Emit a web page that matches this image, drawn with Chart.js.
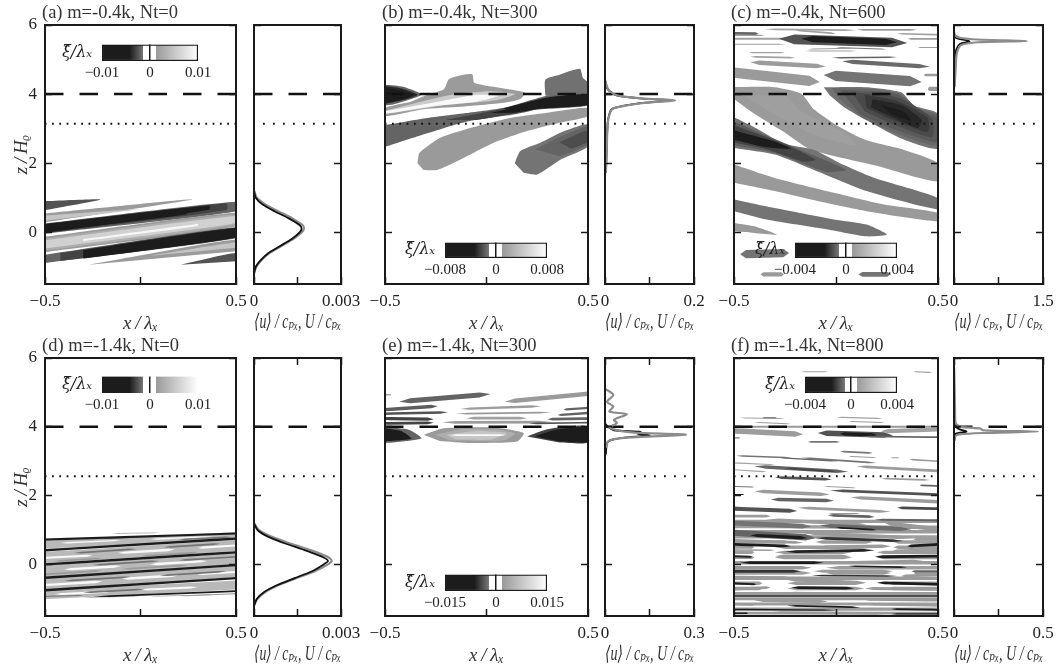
<!DOCTYPE html>
<html>
<head>
<meta charset="utf-8">
<script src="https://cdn.jsdelivr.net/npm/chart.js@4"></script>
<style>
  html, body { margin: 0; background: #fff; overflow: hidden; }
  #fig { position: relative; width: 1057px; height: 669px; }
  canvas { position: absolute; filter: blur(0.45px); }
</style>
</head>
<body>
<div id="fig"></div>
<script>
// panel text and axis values
const panelTitles = ["(a) m=-0.4k, Nt=0", "(b) m=-0.4k, Nt=300", "(c) m=-0.4k, Nt=600",
                     "(d) m=-1.4k, Nt=0", "(e) m=-1.4k, Nt=300", "(f) m=-1.4k, Nt=800"];
const xTicks = [-0.5, 0, 0.5];
const zTicks = [0, 2, 4, 6];
const uMax = [0.003, 0.2, 1.5, 0.003, 0.3, 0.5];
const xiMax = [0.01, 0.008, 0.004, 0.01, 0.015, 0.004];
const dashedZ = [4, 4, 4, 4, 4, 4];
const dottedZ = [3.14, 3.14, 3.14, 2.56, 2.56, 2.56];

// colour bar: position along the bar (-1..1) and grey value
const cmapLevels = [-1, -0.42, -0.14, -0.14, 0.12, 0.12, 1];
const cmapGreys = [28, 28, 119, 255, 255, 153, 255];

// contours: [level, x, z, x, z, ...], level is xi / xiMax
const regionsA = [
  [-0.25, -0.5,0.9, -0.21,0.95, -0.5,0.64],
  [0.14, -0.5,0.54, 0.27,0.95, -0.5,0.29],
  [0.5, -0.5,0.48, 0,0.67, -0.5,0.33],
  [-0.2, -0.5,0.25, 0.5,0.88, 0.5,0.6, -0.5,-0.04],
  [-0.3, -0.5,0.24, 0.45,0.84, 0.45,0.64, -0.5,-0.03],
  [-0.42, -0.5,0.23, 0.36,0.77, 0.36,0.65, -0.5,-0.02],
  [-0.8, -0.5,0.21, 0.24,0.69, 0.24,0.52, -0.5,0.01],
  [0.14, -0.5,-0.135, 0.5,0.56, 0.5,0.17, -0.5,-0.58],
  [0.3, -0.5,-0.18, 0.5,0.52, 0.5,0.21, -0.5,-0.53],
  [0.6, -0.5,-0.23, 0.5,0.47, 0.5,0.26, -0.5,-0.47],
  [0.92, -0.3,-0.2, 0.3,0.24, 0.3,0.18, -0.3,-0.26],
  [-0.2, -0.5,-0.65, 0.5,0.145, 0.5,-0.175, -0.5,-0.89],
  [-0.3, -0.42,-0.6, 0.5,0.13, 0.5,-0.16, -0.42,-0.83],
  [-0.8, -0.3,-0.52, 0.5,0.12, 0.5,-0.15, -0.3,-0.76],
  [0.14, -0.27,-0.94, 0.5,-0.21, 0.5,-0.55],
  [0.5, 0.05,-0.68, 0.5,-0.3, 0.5,-0.45],
  [-0.25, 0.21,-0.94, 0.5,-0.6, 0.5,-0.84]
];
const regionsB = [
  [-0.2, -0.5,4.27, -0.41,4.21, -0.32,3.99, -0.375,3.85, -0.46,3.7, -0.5,3.67],
  [-0.38, -0.5,4.23, -0.41,4.15, -0.34,3.98, -0.4,3.84, -0.5,3.71],
  [-0.85, -0.5,4.2, -0.42,4.1, -0.36,3.98, -0.42,3.83, -0.5,3.75],
  [0.14, -0.31,3.94, -0.21,4.14, -0.186,4.43, -0.13,4.54, -0.07,4.57, -0.06,4.33, 0.035,4.21, 0.19,4.04, 0.167,3.86, 0.085,3.75, -0.13,3.63, -0.31,3.56, -0.5,3.36, -0.5,3.6, -0.375,3.77],
  [0.55, -0.28,3.84, -0.15,4.0, 0.02,4.08, 0.14,4.0, 0.05,3.82, -0.2,3.68, -0.5,3.42, -0.5,3.52],
  [0.95, -0.22,3.8, -0.05,3.98, 0.06,3.95, -0.05,3.78, -0.25,3.66, -0.5,3.43, -0.5,3.5],
  [-0.16, 0.29,3.95, 0.29,4.42, 0.364,4.57, 0.46,4.73, 0.475,4.47, 0.5,4.33, 0.5,3.9],
  [-0.2, -0.5,3.1, -0.3,3.3, -0.1,3.45, 0.1,3.62, 0.3,3.95, 0.5,4.0, 0.5,3.67, 0.25,3.55, 0.15,3.42, -0.1,3.2, -0.3,2.85, -0.5,2.47],
  [-0.3, -0.2,3.25, 0,3.48, 0.2,3.72, 0.4,3.97, 0.5,3.97, 0.5,3.68, 0.26,3.57, 0.14,3.44, -0.05,3.25],
  [-0.45, 0.02,3.45, 0.2,3.68, 0.35,3.93, 0.5,3.97, 0.5,3.7, 0.27,3.58, 0.14,3.46],
  [-0.85, 0.08,3.58, 0.3,3.9, 0.5,3.97, 0.5,3.7, 0.27,3.6, 0.14,3.5],
  [0.13, -0.34,2.0, -0.33,2.3, -0.23,2.73, -0.08,3.02, 0.117,3.31, 0.3,3.46, 0.5,3.6, 0.5,3.36, 0.36,3.17, 0.2,2.93, 0.035,2.59, -0.13,2.1, -0.244,1.8, -0.31,1.8],
  [-0.15, 0.139,2.0, 0.167,2.35, 0.265,2.59, 0.364,2.88, 0.5,3.12, 0.5,2.49, 0.364,2.1, 0.249,1.67, 0.183,1.72],
  [-0.2, 0.24,2.4, 0.36,2.75, 0.5,3.05, 0.5,2.55, 0.36,2.2],
  [-0.27, 0.36,2.6, 0.5,2.95, 0.5,2.62, 0.42,2.42]
];
const regionsC = [
  [0.13, -0.5,4.2, -0.3,4.2, -0.17,4.01, -0.11,3.57, 0.02,3.04, 0.15,2.66, 0.33,2.39, 0.5,2.0, 0.5,1.47, 0.19,1.94, -0.124,2.39, -0.255,2.9, -0.4,3.43, -0.5,3.86],
  [0.17, -0.45,3.95, -0.25,3.95, -0.17,3.5, 0.05,2.85, 0.1,2.5, -0.1,2.8, -0.3,3.4],
  [-0.15, -0.06,4.2, 0.15,4.2, 0.32,4.05, 0.38,3.67, 0.5,3.43, 0.5,2.42, 0.32,2.71, 0.15,3.24, 0.04,3.62, -0.03,3.96],
  [-0.19, -0.02,4.17, 0.17,4.15, 0.31,4.02, 0.4,3.6, 0.5,3.38, 0.5,2.52, 0.31,2.83, 0.13,3.32, 0.01,3.9],
  [-0.23, 0.02,4.12, 0.3,4.0, 0.42,3.5, 0.5,3.3, 0.5,2.6, 0.3,2.95, 0.12,3.4],
  [-0.28, 0.08,4.05, 0.3,3.9, 0.47,3.3, 0.47,2.75, 0.3,3.08, 0.14,3.5],
  [-0.33, 0.14,3.98, 0.3,3.8, 0.45,3.3, 0.45,2.9, 0.28,3.25, 0.15,3.6],
  [-0.39, 0.18,3.85, 0.32,3.68, 0.42,3.25, 0.4,3.02, 0.27,3.35, 0.17,3.62],
  [-0.7, 0.22,3.68, 0.33,3.5, 0.37,3.22, 0.27,3.42],
  [-0.15, -0.5,3.33, -0.4,3.04, -0.255,2.56, -0.11,2.39, 0.02,2.0, 0.19,1.57, 0.5,0.99, 0.5,0.66, 0.15,1.19, -0.09,1.76, -0.3,2.25, -0.5,2.44],
  [-0.22, -0.5,3.2, -0.3,2.7, -0.1,2.2, 0.05,1.8, -0.05,1.75, -0.3,2.3, -0.5,2.52],
  [-0.3, -0.5,3.1, -0.25,2.55, -0.1,2.1, -0.16,2.05, -0.35,2.42, -0.5,2.6],
  [-0.42, -0.5,2.95, -0.3,2.62, -0.22,2.42, -0.35,2.47, -0.5,2.68],
  [0.13, -0.5,1.96, -0.3,1.57, -0.01,1.14, 0.235,0.8, 0.5,0.56, 0.5,0.32, 0.15,0.61, -0.09,0.9, -0.3,1.19, -0.5,1.43],
  [-0.15, -0.5,0.95, -0.3,0.7, -0.01,0.37, 0.15,0.22, 0.25,-0.07, 0.15,-0.12, -0.04,0.08, -0.34,0.37, -0.5,0.61],
  [0.13, -0.5,0.27, -0.4,0.17, -0.29,-0.07, -0.4,-0.02, -0.5,0.03]
];
const regionsE = [
  [-0.2, -0.5,4.0, -0.38,3.91, -0.32,3.67, -0.42,3.57, -0.5,3.52],
  [-0.85, -0.5,3.96, -0.42,3.88, -0.37,3.66, -0.44,3.6, -0.5,3.58],
  [-0.3, 0.2,3.72, 0.3,3.93, 0.5,4.02, 0.5,3.54, 0.36,3.54],
  [-0.85, 0.24,3.72, 0.33,3.9, 0.5,3.98, 0.5,3.56, 0.36,3.57],
  [0.13, -0.31,3.77, -0.21,3.96, 0.035,3.98, 0.183,3.82, 0.15,3.57, -0.08,3.53, -0.23,3.59],
  [0.3, -0.25,3.77, -0.12,3.93, 0.05,3.92, 0.14,3.8, 0.08,3.6, -0.18,3.6],
  [0.5, -0.2,3.77, -0.05,3.88, 0.1,3.82, 0.02,3.63, -0.15,3.63]
];
// thin contours: [x start, x end, z start, z end, thickness, level]
const stripesC = [
  [-0.35,0.1,5.88,5.85,0.05,0.2], [0.1,0.4,5.86,5.86,0.04,-0.15], [-0.5,-0.38,5.76,5.75,0.08,-0.2],
  [-0.2,0,5.85,5.75,0.05,0.2], [-0.5,-0.35,5.7,5.7,0.04,0.15], [0.3,0.5,5.75,5.72,0.05,0.2],
  [0.35,0.5,5.6,5.6,0.05,0.15], [-0.5,-0.2,5.6,5.6,0.06,0.2], [-0.28,0.35,5.6,5.48,0.28,-0.25],
  [-0.17,0.3,5.6,5.5,0.18,-0.8], [-0.5,-0.25,5.44,5.44,0.03,0.15], [0,0.25,5.35,5.3,0.03,-0.15],
  [-0.14,0.1,5.3,5.33,0.03,0.15], [0.4,0.5,5.35,5.35,0.03,0.15], [-0.15,0.1,5.25,5.25,0.03,0.2],
  [-0.43,-0.25,5.2,5.2,0.04,0.2], [-0.42,-0.2,5.08,5.05,0.05,0.2], [-0.42,-0.05,4.92,4.8,0.13,0.15],
  [-0.02,0.3,5.05,5.07,0.04,-0.2], [0.03,0.46,4.95,4.79,0.12,-0.18], [-0.5,-0.08,4.62,4.35,0.3,0.13],
  [-0.06,0.42,4.55,4.35,0.3,-0.15], [0.43,0.5,4.55,4.55,0.07,0.13], [0.45,0.5,4.15,4.15,0.12,0.13],
  [-0.47,-0.23,-0.64,-0.6,0.24,-0.15], [-0.37,-0.255,-1.22,-1.22,0.12,0.13], [0.11,0.27,-1.22,-1.22,0.14,-0.15]
];
const stripesD = [
  [-0.5,0.5,0.57,0.83,0.22,0.4], [-0.42,-0.1,0.62,0.7,0.04,0.95], [0.05,0.38,0.73,0.81,0.04,0.95],
  [-0.2,0.15,0.75,0.83,0.04,-0.15], [0.2,0.48,0.72,0.8,0.04,-0.15], [-0.48,-0.2,0.88,0.92,0.03,-0.12],
  [-0.15,0.1,0.9,0.92,0.02,0.2], [0.12,0.42,0.9,0.93,0.03,-0.12],
  [-0.5,0.5,0.2,0.55,0.33,0.4], [-0.5,-0.25,0.19,0.26,0.06,0.95], [-0.12,0.18,0.33,0.43,0.07,0.95],
  [0.3,0.5,0.48,0.55,0.06,0.95], [-0.35,-0.02,0.33,0.45,0.05,-0.15], [0.12,0.42,0.5,0.6,0.05,-0.15],
  [-0.45,-0.2,0.09,0.18,0.05,0.14], [0.0,0.3,0.24,0.35,0.05,0.14],
  [-0.5,0.5,-0.2,0.16,0.33,0.4], [-0.4,-0.1,-0.15,-0.05,0.07,0.95], [0.05,0.35,0,0.1,0.07,0.95],
  [-0.25,0.1,-0.02,0.1,0.05,-0.15], [0.2,0.5,0.12,0.22,0.05,-0.15],
  [-0.5,-0.2,-0.29,-0.18,0.05,0.14], [-0.1,0.25,-0.14,-0.02,0.05,0.14],
  [-0.5,0.5,-0.57,-0.21,0.33,0.4], [-0.5,-0.2,-0.6,-0.5,0.07,0.95], [-0.1,0.2,-0.42,-0.32,0.07,0.95],
  [0.3,0.5,-0.29,-0.22,0.06,0.95], [-0.4,-0.05,-0.48,-0.36,0.05,-0.15], [0.1,0.45,-0.33,-0.2,0.05,-0.15],
  [-0.5,0.5,-0.88,-0.6,0.26,0.4], [-0.45,-0.15,-0.87,-0.79,0.06,0.95], [0,0.3,-0.74,-0.66,0.06,0.95],
  [-0.3,0.02,-0.82,-0.72,0.05,-0.15],
  [-0.3,0,-0.96,-0.93,0.02,0.2], [0.05,0.4,-0.93,-0.88,0.02,0.2], [-0.5,-0.3,-0.93,-0.9,0.03,-0.15],
  [0.2,0.5,-0.92,-0.85,0.03,0.13],
  [-0.5,0.5,0.72,0.9,0.06,-0.9], [-0.5,0.5,0.41,0.75,0.07,-0.9], [-0.5,0.5,0,0.35,0.07,-0.9],
  [-0.5,0.5,-0.39,-0.02,0.07,-0.9], [-0.5,0.5,-0.75,-0.4,0.07,-0.9], [-0.25,0.5,-0.94,-0.78,0.05,-0.8]
];
const stripesE = [
  [-0.43,0.02,4.73,4.95,0.15,-0.2], [0.09,0.5,4.73,4.96,0.13,0.13], [-0.5,-0.24,4.5,4.6,0.1,-0.22],
  [-0.5,-0.47,4.93,4.93,0.04,0.2], [-0.13,0.27,4.52,4.6,0.07,0.15], [-0.5,-0.19,4.38,4.42,0.07,-0.25],
  [-0.15,0.32,4.38,4.42,0.05,0.13], [0.38,0.5,4.5,4.55,0.07,-0.2], [0.35,0.5,4.34,4.4,0.07,-0.2],
  [-0.5,-0.26,4.24,4.22,0.09,-0.3], [-0.1,0.2,4.25,4.25,0.08,0.2], [0.3,0.5,4.22,4.24,0.08,-0.2],
  [-0.5,-0.26,4.1,4.12,0.08,-0.3], [-0.22,0.32,4.13,4.14,0.08,0.15], [0.21,0.5,4.1,4.12,0.05,-0.25],
  [-0.18,0.1,3.76,3.76,0.05,0.95]
];
// grey background rows of panel f, below z = 1.4
const stripesFBase = [
  [-0.5,0.5,1.25,1.25,0.1,0.14], [-0.5,0.5,1.1,1.08,0.1,0.16], [-0.5,0.5,0.95,0.95,0.1,0.14], [-0.5,0.5,0.8,0.8,0.1,0.17],
  [-0.5,-0.22,0.65,0.65,0.1,0.15], [-0.1,0.18,0.65,0.65,0.1,0.14], [0.28,0.5,0.65,0.65,0.1,0.16],
  [-0.5,-0.4,0.5,0.5,0.09,0.15], [-0.3,0.18,0.5,0.5,0.1,0.14], [0.28,0.5,0.5,0.5,0.1,0.15],
  [-0.5,-0.4,0.35,0.35,0.09,0.16], [-0.3,0.08,0.35,0.35,0.1,0.15], [0.2,0.5,0.35,0.35,0.1,0.14],
  [-0.5,-0.4,0.2,0.2,0.09,0.14], [-0.3,0.08,0.2,0.2,0.1,0.16], [0.2,0.5,0.2,0.2,0.1,0.15],
  [-0.5,0.5,0.05,0.05,0.1,0.15], [-0.5,-0.12,-0.1,-0.1,0.1,0.14], [-0.05,0.5,-0.1,-0.1,0.1,0.16],
  [-0.5,-0.12,-0.25,-0.25,0.1,0.16], [-0.05,0.27,-0.25,-0.25,0.1,0.14], [0.38,0.5,-0.25,-0.25,0.1,0.15],
  [-0.5,0.5,-0.4,-0.4,0.1,0.14], [-0.5,-0.36,-0.55,-0.55,0.1,0.16], [-0.24,0.14,-0.55,-0.55,0.1,0.15],
  [0.25,0.5,-0.55,-0.55,0.1,0.14], [-0.5,-0.36,-0.7,-0.7,0.1,0.14], [-0.24,0.14,-0.7,-0.7,0.1,0.16],
  [0.25,0.5,-0.7,-0.7,0.1,0.15], [-0.5,0.5,-0.85,-0.85,0.1,0.15], [-0.5,0.5,-1.0,-1.0,0.09,0.14],
  [-0.5,0.5,-1.15,-1.15,0.09,0.16], [-0.5,0.5,-1.3,-1.3,0.09,0.14], [-0.5,0.5,-1.42,-1.42,0.08,0.15]
];
const stripesF = [
  [-0.17,-0.04,5.6,5.6,0.03,0.2], [0.38,0.47,5.6,5.58,0.03,0.15],
  [-0.47,-0.25,4.26,4.24,0.03,0.2], [-0.36,-0.29,4.26,4.26,0.03,-0.2], [-0.4,-0.22,4.13,4.08,0.03,0.15],
  [0,0.23,4.28,4.24,0.04,0.2], [0.06,0.24,4.16,4.12,0.03,0.15], [-0.5,0.5,4,4,0.06,0.13],
  [-0.5,-0.16,3.88,3.78,0.16,0.15], [-0.09,0.28,3.82,3.75,0.16,-0.25], [0.02,0.2,3.8,3.76,0.1,-0.45],
  [0.12,0.5,3.72,3.7,0.05,-0.2], [0.22,0.5,3.87,3.92,0.12,0.2], [-0.5,-0.47,3.68,3.68,0.05,0.2],
  [-0.14,0.02,3.56,3.56,0.05,-0.15], [0.02,0.18,3.28,3.24,0.05,-0.15], [0.06,0.2,3.14,3.1,0.03,0.15],
  [0.27,0.31,3.1,3.1,0.03,0.15], [-0.49,-0.22,3.16,3.1,0.04,-0.15], [-0.28,0.01,3.1,3,0.04,-0.2],
  [-0.17,0.2,3.1,2.95,0.05,-0.15], [0.36,0.5,3.05,3,0.05,0.15], [-0.5,-0.3,2.95,2.9,0.03,0.2],
  [-0.4,0.06,2.85,2.69,0.1,-0.2], [-0.25,0,2.8,2.7,0.05,-0.3], [-0.5,-0.34,2.75,2.69,0.03,0.2],
  [0.1,0.5,2.85,2.72,0.08,0.15], [-0.3,-0.02,2.53,2.47,0.08,-0.25], [0.22,0.46,2.5,2.45,0.05,0.15],
  [-0.5,-0.4,2.27,2.25,0.03,-0.15], [-0.06,0.1,2.27,2.22,0.03,0.15], [0.41,0.5,2.3,2.28,0.05,-0.2],
  [-0.4,-0.03,2.13,2.03,0.1,0.15], [-0.03,0.5,2.15,2.03,0.08,-0.25], [-0.5,-0.45,2.03,2.03,0.03,-0.5],
  [-0.32,-0.01,1.89,1.85,0.1,-0.2], [0.07,0.5,1.95,1.82,0.1,0.15], [-0.5,-0.19,1.62,1.55,0.12,-0.25],
  [-0.19,0.27,1.65,1.53,0.08,0.15], [0.3,0.5,1.65,1.62,0.08,-0.28], [-0.04,0.12,1.48,1.48,0.03,0.15],
  [-0.5,-0.32,1.4,1.4,0.08,0.15], [-0.04,0.19,1.43,1.38,0.08,-0.2], [-0.5,-0.12,1.2,1.1,0.14,-0.15],
  [-0.34,0.15,1.3,1.16,0.1,0.15], [0.19,0.5,1.3,1.28,0.06,-0.2], [-0.08,0.37,1.13,1.02,0.12,-0.18],
  [0,0.2,1.07,1,0.05,-0.5], [0.24,0.5,1.2,1.02,0.12,0.13], [-0.5,-0.1,0.92,0.77,0.18,-0.2],
  [-0.42,-0.14,0.85,0.77,0.09,-0.55], [-0.17,0.38,0.92,0.77,0.1,0.14], [-0.1,0.33,0.77,0.68,0.08,-0.35],
  [-0.5,-0.16,0.7,0.63,0.08,0.13], [-0.5,-0.22,0.58,0.53,0.08,-0.8], [0.38,0.5,0.73,0.73,0.08,0.15],
  [0.35,0.5,0.53,0.58,0.08,-0.7], [-0.09,0.27,0.5,0.53,0.1,0.15], [-0.5,-0.3,0.42,0.41,0.05,0.15],
  [-0.5,-0.41,0.24,0.22,0.06,-0.4], [-0.25,0.19,0.37,0.41,0.08,-0.4], [-0.3,0.07,0.24,0.24,0.1,0.15],
  [0.19,0.5,0.22,0.24,0.08,-0.5], [0.27,0.5,0.38,0.43,0.09,0.15], [-0.47,-0.06,0.05,0.05,0.08,-0.5],
  [0.04,0.43,0.05,0.1,0.08,0.13], [0.06,0.35,-0.05,-0.08,0.05,-0.4], [-0.47,-0.12,-0.08,-0.1,0.05,0.13],
  [-0.5,-0.17,-0.2,-0.2,0.09,-0.35], [-0.11,0.28,-0.2,-0.2,0.09,0.15], [0.37,0.5,-0.2,-0.2,0.06,-0.2],
  [-0.12,0.3,-0.32,-0.34,0.05,-0.35], [-0.5,-0.22,-0.36,-0.38,0.06,0.14], [0.32,0.5,-0.34,-0.3,0.08,0.14],
  [-0.25,0.15,-0.44,-0.53,0.09,0.14], [-0.5,-0.39,-0.55,-0.58,0.06,-0.4], [-0.5,-0.32,-0.72,-0.67,0.08,0.14],
  [-0.22,0.09,-0.67,-0.69,0.08,-0.6], [0.2,0.5,-0.53,-0.58,0.08,-0.5], [0.14,0.5,-0.7,-0.72,0.09,0.13],
  [-0.25,0.14,-0.82,-0.85,0.06,0.14], [0.23,0.5,-0.85,-0.85,0.05,0.13], [-0.5,0.5,-0.92,-0.92,0.04,-0.9],
  [-0.4,-0.04,-1.04,-1.08,0.09,0.14], [0.12,0.5,-1.01,-1.04,0.08,0.13], [-0.5,-0.4,-1.16,-1.18,0.05,0.13],
  [-0.3,0.04,-1.14,-1.16,0.06,0.14], [0.15,0.5,-1.16,-1.2,0.06,0.14], [-0.24,0.12,-1.2,-1.25,0.05,-0.5],
  [-0.5,0,-1.31,-1.33,0.04,-0.5], [0.27,0.5,-1.3,-1.32,0.05,-0.5], [-0.34,0.27,-1.4,-1.43,0.08,0.14],
  [-0.5,-0.43,-1.42,-1.42,0.04,-0.8], [0.27,0.5,-1.44,-1.44,0.05,-0.3]
];

// mean flow profiles
const profZa = [-1.2,-1,-0.8,-0.6,-0.4,-0.2,0,0.1,0.2,0.4,0.6,0.8,1,1.2];
const blackA = [0,0.00006,0.00024,0.0005,0.0009,0.0013,0.00158,0.00164,0.00158,0.0012,0.00072,0.0003,0.00006,0];
const grayA = [0,0.00008,0.00027,0.00054,0.00094,0.00135,0.00165,0.00172,0.00168,0.00132,0.00085,0.0004,0.0001,0];
const blackD = [0,0.0001,0.00035,0.0008,0.0014,0.002,0.0024,0.00255,0.0024,0.0018,0.0011,0.0005,0.00012,0];
const grayD = [0,0.00012,0.0004,0.00085,0.00145,0.0021,0.00255,0.00268,0.00258,0.002,0.00128,0.00062,0.00017,0];
const profZb = [1.72,2.4,2.88,3.27,3.56,3.65,3.75,3.82,3.87,3.96,4.12,4.28,4.42];
const blackB = [0.002,0.004,0.005,0.007,0.015,0.038,0.09,0.15,0.085,0.026,0.007,0.002,0];
const grayB = [0.002,0.004,0.005,0.0075,0.016,0.04,0.093,0.157,0.09,0.028,0.008,0.003,0];
const profZcGray = [4.2,4.5,4.8,5.1,5.3,5.42,5.5,5.54,5.58,5.63,5.7,5.8];
const grayC = [0.01,0.02,0.03,0.04,0.07,0.12,0.4,1.23,0.4,0.1,0.02,0];
const profZcBlack = [4.5,5,5.3,5.45,5.52,5.56,5.6,5.65,5.75];
const blackC = [0.005,0.015,0.04,0.1,0.26,0.2,0.08,0.015,0];
const profZeGray = [3.38,3.53,3.62,3.69,3.77,3.83,3.88,3.98,4.11,4.2,4.37,4.44,4.59,4.73,4.93,5.1];
const grayE = [0.004,0.007,0.02,0.085,0.272,0.1,0.05,0.015,0.04,0.03,0.073,0.015,0.028,0.007,0.028,0];
const profZeBlack = [3.2,3.5,3.6,3.68,3.75,3.8,3.85,3.9,4,4.1];
const blackE = [0.003,0.006,0.015,0.06,0.15,0.11,0.12,0.03,0.01,0];
const profZfGray = [3.6,3.72,3.78,3.82,3.86,3.9,3.95,4,4.1,4.5,5,5.7];
const grayF = [0.003,0.006,0.03,0.16,0.472,0.16,0.15,0.04,0.01,0.006,0.004,0.001];
const profZfBlack = [3.6,3.8,3.86,3.95,4,4.1];
const blackF = [0.002,0.01,0.07,0.02,0.015,0.005];

// figure layout
const rowTop = [25, 358], rowHeight = [259, 258];
const mainLeft = [45, 385, 734], mainWidth = [191, 203, 204];
const profLeft = [254, 605, 954], profWidth = [87, 89, 89];
const barBox = [[102,43,96,18], [445,241,102,17], [795,241,102,17], [102,375,96,18], [445,573,102,18], [805,375,92,18]];
const ink = "#1a1a1a";
const serif = '"Liberation Serif", "DejaVu Serif", "DejaVu Sans", serif';

function grey(g) {
  return "rgb(" + g + "," + g + "," + g + ")";
}

function greyOf(level) {
  let i = cmapLevels.findIndex((l, k) => k > 0 && level <= l && cmapLevels[k - 1] !== l);
  if (i <= 0) i = 1;
  const a = cmapLevels[i - 1], b = cmapLevels[i];
  return grey(Math.round(cmapGreys[i - 1] + ((cmapGreys[i] - cmapGreys[i - 1]) * (level - a)) / (b - a)));
}

function regionDataset(row) {
  const pts = [];
  for (let i = 1; i < row.length; i += 2) pts.push({ x: row[i], y: row[i + 1] });
  return fillDataset(pts, row[0], 0.2);
}

// a stripe tapers to a point except where it runs into the panel edge
function stripeDataset(s) {
  const [x0, x1, z0, z1, t, level] = s;
  const at = (x) => z0 + ((z1 - z0) * (x - x0)) / (x1 - x0);
  const a = x0 + (x1 - x0) * 0.12, b = x1 - (x1 - x0) * 0.12;
  const top = [], bot = [];
  if (x0 <= -0.5) { top.push({ x: x0, y: z0 + t / 2 }); bot.push({ x: x0, y: z0 - t / 2 }); }
  else top.push({ x: x0, y: z0 });
  top.push({ x: a, y: at(a) + t / 2 }, { x: b, y: at(b) + t / 2 });
  bot.push({ x: a, y: at(a) - t / 2 }, { x: b, y: at(b) - t / 2 });
  if (x1 >= 0.5) { top.push({ x: x1, y: z1 + t / 2 }); bot.push({ x: x1, y: z1 - t / 2 }); }
  else top.push({ x: x1, y: z1 });
  return fillDataset(top.concat(bot.reverse()), level, 0);
}

function fillDataset(data, level, tension) {
  return { data, backgroundColor: greyOf(level), borderWidth: 0, pointRadius: 0, fill: "shape", tension };
}

function lineDataset(data, color, width, dash, offset) {
  return { data, borderColor: color, borderWidth: width, borderDash: dash || [], borderDashOffset: offset || 0,
           pointRadius: 0, fill: false, tension: 0 };
}

function levelLines(i, xMin, xMax, dots, dotOffset) {
  return [
    lineDataset([{ x: xMin, y: dashedZ[i] }, { x: xMax, y: dashedZ[i] }], "#111", 2.4, [18.5, 16]),
    lineDataset([{ x: xMin, y: dottedZ[i] }, { x: xMax, y: dottedZ[i] }], "#111", 2, [1.8, dots], dotOffset)
  ];
}

function frameAxis(position, min, max, values, size, extra) {
  const horizontal = position === "top" || position === "bottom";
  return Object.assign({
    type: "linear", position, min, max,
    afterBuildTicks: (s) => { s.ticks = values.map((v) => ({ value: v })); },
    afterFit: (s) => {
      s[horizontal ? "height" : "width"] = size;
      // tick labels may hang past the frame, do not let them shrink it
      s.paddingLeft = s.paddingRight = s.paddingTop = s.paddingBottom = 0;
    },
    grid: { drawOnChartArea: false, tickLength: -7, tickColor: ink, tickWidth: 1.5, z: 1 },
    border: { color: ink, width: 2, z: 1 },
    ticks: { display: false, autoSkip: false, maxRotation: 0 }
  }, extra || {});
}

function labelTicks(labelled, padding) {
  return { display: true, autoSkip: false, maxRotation: 0, padding, color: "#222",
           font: { family: serif, size: 17 },
           callback: (v) => (labelled.includes(v) ? String(v).replace("-", "\u2212") : "") };
}

function axisTitle(text, padding, size) {
  return { display: true, text, color: "#333", padding, font: { family: serif, size: size || 19, style: "italic" } };
}

const nudgeTitle = { id: "nudgeTitle", afterLayout: (chart) => { if (chart.titleBlock) chart.titleBlock.left -= 3; } };

function place(left, top, width, height) {
  const c = document.createElement("canvas");
  c.width = width; c.height = height;
  c.style.left = left + "px"; c.style.top = (top - 25) + "px";
  document.getElementById("fig").appendChild(c);
  return c.getContext("2d");
}

function draw(ctx, datasets, scales, padRight, title) {
  datasets.forEach((d, k) => { d.order = datasets.length - k; });
  const font = { family: serif, size: 18.5, weight: "normal" };
  new Chart(ctx, {
    type: "line",
    data: { datasets },
    plugins: [nudgeTitle],
    options: {
      responsive: false, animation: false, events: [], devicePixelRatio: 1,
      layout: { autoPadding: false, padding: { right: padRight } },
      scales,
      plugins: {
        legend: { display: false }, tooltip: { enabled: false },
        title: { display: true, text: title || " ", align: "start", fullSize: false, color: "#333",
                 padding: { top: 1.8, bottom: 1 }, font }
      }
    }
  });
}

function drawMain(i, fills) {
  const col = i % 3, row = i < 3 ? 0 : 1;
  const ctx = place(mainLeft[col] - 45, rowTop[row], 45 + mainWidth[col] + 14, 25 + rowHeight[row] + 52);
  const yExtra = col === 0
    ? { ticks: labelTicks(zTicks, 15), title: axisTitle("z\u2009/\u2009H\u1D68", 11) }
    : {};
  draw(ctx, fills.concat(levelLines(i, -0.5, 0.5, 5.5, -7)), {
    x: frameAxis("bottom", -0.5, 0.5, xTicks, 52, { ticks: labelTicks([-0.5, 0.5], 14), title: axisTitle("x\u2009/\u2009\u03BB\u2093", 1) }),
    x2: frameAxis("top", -0.5, 0.5, [], 0),
    y: frameAxis("left", -1.5, 6, zTicks, 45, yExtra),
    y2: frameAxis("right", -1.5, 6, zTicks, 0)
  }, 14, panelTitles[i]);
}

function xy(us, zs) {
  return us.map((u, k) => ({ x: u, y: zs[k] }));
}

function drawProfile(i, black, gray, grayOnTop) {
  const col = i % 3, row = i < 3 ? 0 : 1, m = uMax[i];
  const ctx = place(profLeft[col] - 20, rowTop[row], 20 + profWidth[col] + 20, 25 + rowHeight[row] + 52);
  const bd = lineDataset(black, "#111", 1.8); bd.tension = 0.25;
  const gd = lineDataset(gray, "#8c8c8c", 2.2); gd.tension = 0.25;
  const uTicks = [0, m / 2, m];
  draw(ctx, [...levelLines(i, 0, m, 8.2, -9), ...(grayOnTop ? [bd, gd] : [gd, bd])], {
    x: frameAxis("bottom", 0, m, uTicks, 52, { ticks: labelTicks([0, m], 14),
      title: axisTitle("\u27E8u\u27E9 / c\u209A\u2093, U / c\u209A\u2093", 1, 20) }),
    x2: frameAxis("top", 0, m, row ? uTicks : [], 0),
    y: frameAxis("left", -1.5, 6, zTicks, 20),
    y2: frameAxis("right", -1.5, 6, zTicks, 0)
  }, 20);
}

function drawBar(i) {
  const [l, t, w, h] = barBox[i], m = xiMax[i];
  const ctx = place(l - 50, t + 25 - 10, 50 + w + 24, 10 + h + 24);
  new Chart(ctx, {
    type: "bar",
    data: {
      labels: ["\u03BE\u0302/\u03BB\u2093"],
      datasets: [{
        data: [[-m, m]],
        barPercentage: 1, categoryPercentage: 1, borderSkipped: false,
        borderColor: ink, borderWidth: i === 3 ? 0 : 1.5,
        backgroundColor: (c) => {
          const a = c.chart.chartArea;
          if (!a) return "#888";
          const g = c.chart.ctx.createLinearGradient(a.left, 0, a.right, 0);
          cmapLevels.forEach((lv, k) => g.addColorStop((lv + 1) / 2, grey(cmapGreys[k])));
          return g;
        }
      }]
    },
    options: {
      indexAxis: "y", responsive: false, animation: false, events: [], devicePixelRatio: 1,
      layout: { autoPadding: false, padding: { top: 10, right: 24 } },
      plugins: { legend: { display: false }, tooltip: { enabled: false } },
      scales: {
        x: {
          type: "linear", min: -m, max: m,
          afterBuildTicks: (s) => { s.ticks = [-m, 0, m].map((v) => ({ value: v })); },
          afterFit: (s) => { s.height = 24; s.paddingLeft = s.paddingRight = 0; },
          border: { display: false },
          grid: { z: 1, drawTicks: false, lineWidth: 1.5,
                  color: (c) => (c.tick && c.tick.value === 0 ? ink : "rgba(0,0,0,0)") },
          ticks: { autoSkip: false, maxRotation: 0, padding: 3, color: "#222", font: { family: serif, size: 15 },
                   callback: (v) => String(v).replace("-", "\u2212") }
        },
        y: {
          afterFit: (s) => { s.width = 50; },
          border: { display: false }, grid: { display: false },
          ticks: { padding: 2, color: "#222", font: { family: '"DejaVu Serif", serif', size: 16, style: "italic" } }
        }
      }
    }
  });
}

const stripeSets = { 2: stripesC, 3: stripesD, 4: stripesE, 5: stripesFBase.concat(stripesF) };
const regionSets = { 0: regionsA, 1: regionsB, 2: regionsC, 4: regionsE };

panelTitles.forEach((_, i) => {
  const fills = (regionSets[i] || []).map(regionDataset).concat((stripeSets[i] || []).map(stripeDataset));
  drawMain(i, fills);
});

drawProfile(0, xy(blackA, profZa), xy(grayA, profZa), false);
drawProfile(1, xy(blackB, profZb), xy(grayB, profZb), true);
drawProfile(2, xy(blackC, profZcBlack), xy(grayC, profZcGray), true);
drawProfile(3, xy(blackD, profZa), xy(grayD, profZa), false);
drawProfile(4, xy(blackE, profZeBlack), xy(grayE, profZeGray), true);
drawProfile(5, xy(blackF, profZfBlack), xy(grayF, profZfGray), true);

panelTitles.forEach((_, i) => drawBar(i));
</script>
</body>
</html>
